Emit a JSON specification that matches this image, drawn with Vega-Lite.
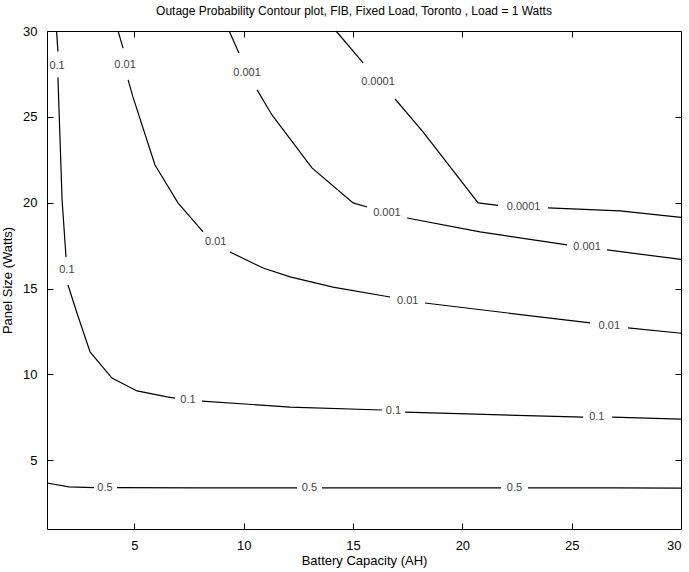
{
  "$schema": "https://vega.github.io/schema/vega-lite/v6.json",
  "width": 634,
  "height": 498,
  "autosize": {"type": "none"},
  "padding": {"left": 47, "top": 31, "right": 8, "bottom": 43},
  "background": "white",
  "config": {
    "view": {"stroke": "black", "strokeWidth": 1},
    "font": "Liberation Sans",
    "axis": {"grid": false, "domain": false, "tickColor": "black", "tickSize": -6, "labelColor": "black", "titleColor": "black", "labelFontSize": 13, "titleFontSize": 13, "titleFontWeight": "normal"}
  },
  "title": {"text": "Outage Probability Contour plot, FIB, Fixed Load, Toronto , Load = 1 Watts", "fontSize": 12, "fontWeight": "normal", "offset": 7, "dx": -10, "color": "black"},
  "datasets": {
    "lines": [
      {"seg": "s5a", "i": 1, "x": 1, "y": 3.68},
      {"seg": "s5a", "i": 2, "x": 2.0, "y": 3.45},
      {"seg": "s5a", "i": 3, "x": 3.15, "y": 3.41},
      {"seg": "s5b", "i": 1, "x": 4.2, "y": 3.41},
      {"seg": "s5b", "i": 2, "x": 8, "y": 3.4},
      {"seg": "s5b", "i": 3, "x": 12.44, "y": 3.39},
      {"seg": "s5c", "i": 1, "x": 13.58, "y": 3.39},
      {"seg": "s5c", "i": 2, "x": 18, "y": 3.39},
      {"seg": "s5c", "i": 3, "x": 21.77, "y": 3.39},
      {"seg": "s5d", "i": 1, "x": 23.0, "y": 3.39},
      {"seg": "s5d", "i": 2, "x": 27, "y": 3.39},
      {"seg": "s5d", "i": 3, "x": 30, "y": 3.38},

      {"seg": "s1a", "i": 1, "x": 1.44, "y": 30},
      {"seg": "s1a", "i": 2, "x": 1.5, "y": 28.8},
      {"seg": "s1b", "i": 1, "x": 1.5, "y": 27.3},
      {"seg": "s1b", "i": 2, "x": 1.69, "y": 20.16},
      {"seg": "s1b", "i": 3, "x": 1.87, "y": 16.84},
      {"seg": "s1c", "i": 1, "x": 1.96, "y": 15.21},
      {"seg": "s1c", "i": 2, "x": 2.37, "y": 13.58},
      {"seg": "s1c", "i": 3, "x": 2.97, "y": 11.31},
      {"seg": "s1c", "i": 4, "x": 3.97, "y": 9.79},
      {"seg": "s1c", "i": 5, "x": 5.12, "y": 9.04},
      {"seg": "s1c", "i": 6, "x": 6.49, "y": 8.69},
      {"seg": "s1c", "i": 7, "x": 6.86, "y": 8.62},
      {"seg": "s1d", "i": 1, "x": 8.09, "y": 8.45},
      {"seg": "s1d", "i": 2, "x": 12.12, "y": 8.1},
      {"seg": "s1d", "i": 3, "x": 16.32, "y": 7.93},
      {"seg": "s1e", "i": 1, "x": 17.38, "y": 7.81},
      {"seg": "s1e", "i": 2, "x": 21, "y": 7.67},
      {"seg": "s1e", "i": 3, "x": 25.52, "y": 7.52},
      {"seg": "s1f", "i": 1, "x": 26.85, "y": 7.52},
      {"seg": "s1f", "i": 2, "x": 30, "y": 7.4},

      {"seg": "s2a", "i": 1, "x": 4.25, "y": 30},
      {"seg": "s2a", "i": 2, "x": 4.48, "y": 29.0},
      {"seg": "s2b", "i": 1, "x": 4.71, "y": 27.15},
      {"seg": "s2b", "i": 2, "x": 4.93, "y": 26.16},
      {"seg": "s2b", "i": 3, "x": 5.94, "y": 22.2},
      {"seg": "s2b", "i": 4, "x": 6.99, "y": 19.99},
      {"seg": "s2b", "i": 5, "x": 8.14, "y": 18.3},
      {"seg": "s2c", "i": 1, "x": 9.37, "y": 17.13},
      {"seg": "s2c", "i": 2, "x": 10.88, "y": 16.2},
      {"seg": "s2c", "i": 3, "x": 12.12, "y": 15.68},
      {"seg": "s2c", "i": 4, "x": 14.08, "y": 15.09},
      {"seg": "s2c", "i": 5, "x": 16.69, "y": 14.51},
      {"seg": "s2d", "i": 1, "x": 18.29, "y": 14.16},
      {"seg": "s2d", "i": 2, "x": 25.84, "y": 13.0},
      {"seg": "s2e", "i": 1, "x": 27.58, "y": 12.71},
      {"seg": "s2e", "i": 2, "x": 30, "y": 12.4},

      {"seg": "s3a", "i": 1, "x": 9.33, "y": 30},
      {"seg": "s3a", "i": 2, "x": 9.78, "y": 28.72},
      {"seg": "s3b", "i": 1, "x": 10.61, "y": 26.57},
      {"seg": "s3b", "i": 2, "x": 11.29, "y": 25.11},
      {"seg": "s3b", "i": 3, "x": 13.12, "y": 22.03},
      {"seg": "s3b", "i": 4, "x": 15.0, "y": 19.99},
      {"seg": "s3b", "i": 5, "x": 15.64, "y": 19.75},
      {"seg": "s3c", "i": 1, "x": 17.47, "y": 19.11},
      {"seg": "s3c", "i": 2, "x": 20.81, "y": 18.3},
      {"seg": "s3c", "i": 3, "x": 24.79, "y": 17.54},
      {"seg": "s3d", "i": 1, "x": 26.62, "y": 17.25},
      {"seg": "s3d", "i": 2, "x": 30, "y": 16.7},

      {"seg": "s4a", "i": 1, "x": 14.22, "y": 30},
      {"seg": "s4a", "i": 2, "x": 15.46, "y": 28.14},
      {"seg": "s4b", "i": 1, "x": 16.92, "y": 26.04},
      {"seg": "s4b", "i": 2, "x": 18.2, "y": 24.12},
      {"seg": "s4b", "i": 3, "x": 20.72, "y": 19.99},
      {"seg": "s4b", "i": 4, "x": 21.63, "y": 19.85},
      {"seg": "s4c", "i": 1, "x": 23.92, "y": 19.7},
      {"seg": "s4c", "i": 2, "x": 27.21, "y": 19.52},
      {"seg": "s4c", "i": 3, "x": 30, "y": 19.15}
    ],
    "labels": [
      {"label": "0.5", "x": 3.65, "y": 3.39},
      {"label": "0.5", "x": 13.0, "y": 3.39},
      {"label": "0.5", "x": 22.38, "y": 3.39},
      {"label": "0.1", "x": 1.46, "y": 27.95},
      {"label": "0.1", "x": 1.91, "y": 16.1},
      {"label": "0.1", "x": 7.45, "y": 8.52},
      {"label": "0.1", "x": 16.85, "y": 7.85},
      {"label": "0.1", "x": 26.15, "y": 7.5},
      {"label": "0.01", "x": 4.57, "y": 28.02},
      {"label": "0.01", "x": 8.72, "y": 17.7},
      {"label": "0.01", "x": 17.5, "y": 14.3},
      {"label": "0.01", "x": 26.72, "y": 12.8},
      {"label": "0.001", "x": 10.15, "y": 27.56},
      {"label": "0.001", "x": 16.55, "y": 19.4},
      {"label": "0.001", "x": 25.7, "y": 17.4},
      {"label": "0.0001", "x": 16.14, "y": 27.03},
      {"label": "0.0001", "x": 22.8, "y": 19.75}
    ]
  },
  "layer": [
    {
      "data": {"name": "lines"},
      "mark": {"type": "line", "color": "black", "strokeWidth": 1.2},
      "encoding": {
        "x": {"field": "x", "type": "quantitative", "scale": {"domain": [1, 30], "nice": false, "zero": false},
              "axis": {"orient": "bottom", "values": [5, 10, 15, 20, 25, 30], "title": "Battery Capacity (AH)", "labelPadding": 16, "titlePadding": 2}},
        "y": {"field": "y", "type": "quantitative", "scale": {"domain": [1, 30], "nice": false, "zero": false},
              "axis": {"orient": "left", "values": [5, 10, 15, 20, 25, 30], "title": "Panel Size (Watts)", "labelPadding": 16, "titlePadding": 8}},
        "detail": {"field": "seg"},
        "order": {"field": "i"}
      }
    },
    {
      "data": {"name": "labels"},
      "mark": {"type": "text", "fontSize": 11, "color": "#444", "font": "Liberation Sans"},
      "encoding": {
        "x": {"field": "x", "type": "quantitative",
              "axis": {"orient": "top", "values": [5, 10, 15, 20, 25], "labels": false, "title": null}},
        "y": {"field": "y", "type": "quantitative",
              "axis": {"orient": "right", "values": [5, 10, 15, 20, 25], "labels": false, "title": null}},
        "text": {"field": "label"}
      }
    }
  ],
  "resolve": {"axis": {"x": "independent", "y": "independent"}}
}
